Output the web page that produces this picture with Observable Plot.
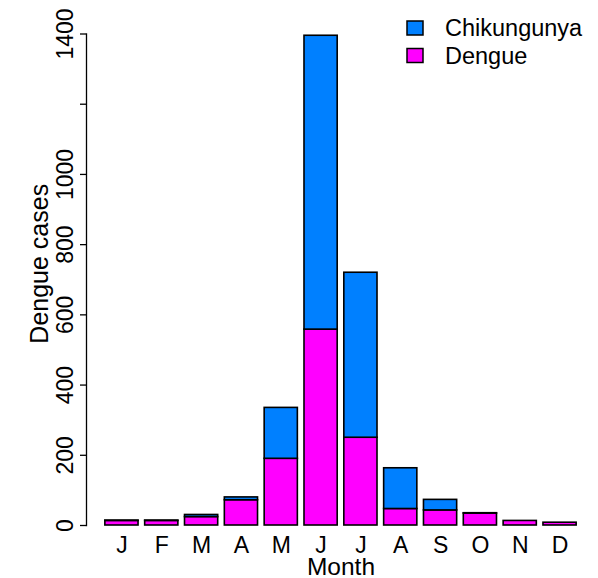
<!DOCTYPE html>
<html><head><meta charset="utf-8">
<script src="https://cdn.jsdelivr.net/npm/d3@7"></script>
<script src="https://cdn.jsdelivr.net/npm/@observablehq/plot@0.6"></script>
<style>
body{margin:0;background:#fff}
svg{font-family:"Liberation Sans",Arial,Helvetica,sans-serif}
</style>
</head><body><div id="chart"></div>
<script>
const monthLabels = ["J","F","M","A","M","J","J","A","S","O","N","D"];
const dengue      = [13, 13, 24, 72, 190, 558, 250, 47, 43, 34, 13, 8];
const chikungunya = [1, 1, 6, 8, 145, 837, 470, 116, 30, 1, 0, 0];
const yTicks = [0, 200, 400, 600, 800, 1000, 1200, 1400];
const yTickLabels = ["0", "200", "400", "600", "800", "1000", "", "1400"];
const seriesNames = ["Chikungunya", "Dengue"];
const seriesColors = ["#0080FF", "#FF00FF"];

const data = [];
monthLabels.forEach((m, i) => {
  data.push({i, series: "Dengue", value: dengue[i]});
  data.push({i, series: "Chikungunya", value: chikungunya[i]});
});

const W = 598, H = 578;
const chart = Plot.plot({
  width: W, height: H,
  marginLeft: 86, marginRight: 3, marginTop: 33.5, marginBottom: 53,
  style: {fontFamily: '"Liberation Sans", Arial, sans-serif', background: "#fff"},
  x: {type: "band", domain: d3.range(12), paddingInner: 1/6, paddingOuter: 0.4733, round: false, axis: null},
  y: {domain: [0, 1400], axis: null},
  color: {domain: seriesNames, range: seriesColors},
  marks: [
    Plot.barY(data, {x: "i", y: "value", fill: "series", order: ["Dengue", "Chikungunya"],
      stroke: "black", strokeWidth: 1.6, inset: 0}),
    Plot.frame({anchor: "left", stroke: "black", strokeWidth: 1.3}),
    Plot.axisY({ticks: yTicks, tickFormat: (d) => yTickLabels[yTicks.indexOf(d)],
      tickSize: 6, tickPadding: 8, tickRotate: -90, fontSize: 23, label: null, stroke: "black", strokeWidth: 1.3}),
    Plot.axisX({tickSize: 0, tickPadding: 11, fontSize: 23, tickFormat: (i) => monthLabels[i], label: null}),
    Plot.text(["Month"], {frameAnchor: "bottom", dy: 41.5, lineAnchor: "middle", textAnchor: "middle", fontSize: 24.5, fill: "black"}),
    Plot.text(["Dengue cases"], {frameAnchor: "left", dx: -47, dy: -16, rotate: -90, lineAnchor: "middle", textAnchor: "middle", fontSize: 25, fill: "black"})
  ]
});
document.getElementById("chart").appendChild(chart);

// legend
const svg = d3.select(chart);
const lg = svg.append("g").attr("font-size", 23.5).attr("text-anchor", "start")
  .attr("font-family", '"Liberation Sans", Arial, sans-serif');
const legendRows = [{name: "Chikungunya", color: seriesColors[0], cy: 28}, {name: "Dengue", color: seriesColors[1], cy: 55.5}];
legendRows.forEach(r => {
  lg.append("rect").attr("x", 407).attr("y", r.cy - 7).attr("width", 16).attr("height", 14)
    .attr("fill", r.color).attr("stroke", "black").attr("stroke-width", 1.5);
  lg.append("text").attr("x", 445).attr("y", r.cy + 8).attr("fill", "black").attr("text-anchor", "start").text(r.name);
});
</script>
</body></html>
